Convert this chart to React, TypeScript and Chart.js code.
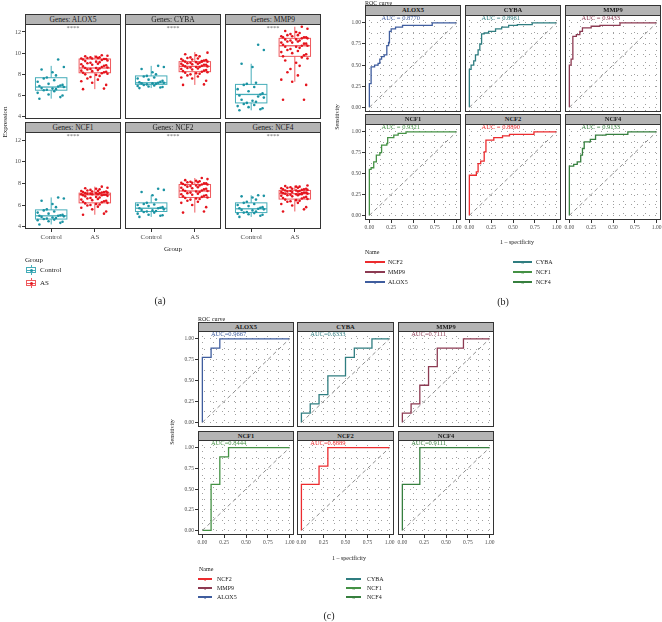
import React, { useEffect, useRef } from "react";
import { Chart, registerables } from "chart.js";

Chart.register(...registerables);

const FONT = "'Liberation Serif', 'Times New Roman', serif";

// ---------------- data ----------------
const GENES = ["ALOX5", "CYBA", "MMP9", "NCF1", "NCF2", "NCF4"];
const GROUPS = ["Control", "AS"];
const EXPR_TICKS = [4, 6, 8, 10, 12];
const ROC_GRID = [0, 0.125, 0.25, 0.375, 0.5, 0.625, 0.75, 0.875, 1];

const CONTROL_ALOX5 = [5.7, 5.85, 6.0, 6.1, 6.25, 6.4, 6.5, 6.55, 6.6, 6.65, 6.7, 6.8, 6.85, 6.9, 6.95, 7.0, 7.1, 7.3, 7.45, 7.6, 7.7, 7.9, 8.2, 8.45, 8.7, 9.4];
const AS_ALOX5 = [6.6, 6.65, 7.0, 7.2, 7.35, 7.5, 7.6, 7.75, 7.85, 7.95, 8.0, 8.05, 8.1, 8.15, 8.2, 8.25, 8.3, 8.35, 8.4, 8.45, 8.5, 8.55, 8.6, 8.6, 8.65, 8.7, 8.75, 8.8, 8.85, 8.9, 8.95, 9.0, 9.05, 9.1, 9.15, 9.2, 9.25, 9.3, 9.35, 9.4, 9.45, 9.45, 9.5, 9.5, 9.55, 9.55, 9.6, 9.6, 9.65, 9.7, 9.75, 9.8];
const CONTROL_CYBA = [6.7, 6.75, 6.8, 6.85, 6.9, 6.95, 7.0, 7.05, 7.1, 7.15, 7.15, 7.2, 7.2, 7.25, 7.3, 7.4, 7.5, 7.6, 7.7, 7.8, 7.85, 8.0, 8.2, 8.5, 8.7, 8.8];
const AS_CYBA = [7.0, 7.05, 7.4, 7.6, 7.7, 7.8, 7.9, 8.0, 8.05, 8.1, 8.15, 8.2, 8.25, 8.3, 8.35, 8.4, 8.45, 8.5, 8.55, 8.6, 8.65, 8.7, 8.7, 8.75, 8.75, 8.8, 8.85, 8.9, 8.9, 8.95, 9.0, 9.0, 9.05, 9.1, 9.1, 9.15, 9.2, 9.2, 9.25, 9.3, 9.3, 9.35, 9.4, 9.45, 9.5, 9.55, 9.6, 9.7, 9.8, 9.9, 10.05, 9.2];
const CONTROL_MMP9 = [4.6, 4.7, 4.8, 4.9, 5.0, 5.1, 5.2, 5.3, 5.4, 5.5, 5.6, 5.8, 5.9, 6.0, 6.1, 6.2, 6.4, 6.6, 6.8, 7.0, 7.1, 7.2, 8.7, 9.0, 10.3, 10.8];
const AS_MMP9 = [5.6, 5.6, 7.0, 7.3, 7.5, 7.9, 8.2, 8.5, 8.8, 9.1, 9.3, 9.5, 9.6, 9.7, 9.8, 9.9, 10.0, 10.1, 10.2, 10.3, 10.4, 10.5, 10.6, 10.6, 10.7, 10.7, 10.8, 10.9, 10.9, 11.0, 11.0, 11.1, 11.1, 11.2, 11.2, 11.3, 11.3, 11.4, 11.4, 11.5, 11.5, 11.5, 11.6, 11.6, 11.7, 11.7, 11.8, 11.9, 12.0, 12.1, 12.3, 12.5];
const CONTROL_NCF1 = [4.2, 4.35, 4.45, 4.5, 4.6, 4.65, 4.7, 4.75, 4.8, 4.85, 4.9, 4.95, 5.0, 5.0, 5.05, 5.1, 5.2, 5.3, 5.4, 5.5, 5.6, 5.8, 6.1, 6.4, 6.6, 6.7];
const AS_NCF1 = [5.1, 5.2, 5.4, 5.6, 5.75, 5.85, 5.95, 6.0, 6.05, 6.1, 6.15, 6.2, 6.25, 6.3, 6.35, 6.4, 6.45, 6.5, 6.55, 6.6, 6.65, 6.7, 6.75, 6.8, 6.85, 6.9, 6.9, 6.95, 6.95, 7.0, 7.0, 7.0, 7.05, 7.05, 7.1, 7.1, 7.1, 7.15, 7.15, 7.2, 7.2, 7.25, 7.25, 7.3, 7.3, 7.35, 7.4, 7.45, 7.5, 7.55, 7.6, 7.7];
const CONTROL_NCF2 = [4.9, 5.0, 5.05, 5.1, 5.2, 5.3, 5.35, 5.4, 5.45, 5.5, 5.55, 5.6, 5.7, 5.7, 5.75, 5.8, 5.9, 6.0, 6.05, 6.1, 6.2, 6.5, 6.9, 7.2, 7.4, 7.5];
const AS_NCF2 = [5.3, 5.4, 5.8, 6.0, 6.2, 6.3, 6.4, 6.5, 6.55, 6.6, 6.65, 6.7, 6.75, 6.8, 6.85, 6.9, 6.95, 7.0, 7.05, 7.1, 7.15, 7.2, 7.25, 7.3, 7.3, 7.35, 7.4, 7.45, 7.5, 7.55, 7.6, 7.65, 7.7, 7.75, 7.8, 7.8, 7.85, 7.9, 7.9, 7.95, 8.0, 8.0, 8.05, 8.05, 8.1, 8.1, 8.15, 8.2, 8.25, 8.3, 8.4, 8.5];
const CONTROL_NCF4 = [4.9, 5.0, 5.1, 5.15, 5.2, 5.25, 5.3, 5.35, 5.4, 5.5, 5.55, 5.6, 5.65, 5.7, 5.75, 5.8, 5.9, 6.0, 6.1, 6.2, 6.3, 6.5, 6.7, 6.8, 6.85, 6.9];
const AS_NCF4 = [5.4, 5.6, 5.8, 5.95, 6.1, 6.2, 6.3, 6.35, 6.4, 6.45, 6.5, 6.55, 6.6, 6.65, 6.7, 6.75, 6.8, 6.85, 6.9, 6.9, 6.95, 7.0, 7.0, 7.05, 7.05, 7.1, 7.1, 7.15, 7.15, 7.2, 7.2, 7.25, 7.25, 7.3, 7.3, 7.35, 7.35, 7.4, 7.4, 7.45, 7.45, 7.5, 7.5, 7.55, 7.6, 7.6, 7.65, 7.7, 7.7, 7.75, 7.8, 7.0];

const CONTROL_VALUES = [CONTROL_ALOX5, CONTROL_CYBA, CONTROL_MMP9, CONTROL_NCF1, CONTROL_NCF2, CONTROL_NCF4];
const AS_VALUES = [AS_ALOX5, AS_CYBA, AS_MMP9, AS_NCF1, AS_NCF2, AS_NCF4];

// [lower whisker, Q1, median, Q3, upper whisker]
const CONTROL_BOX = [
  [5.7, 6.5, 6.8, 7.68, 8.8],
  [6.7, 7.05, 7.2, 7.85, 8.8],
  [4.6, 5.3, 6.1, 7.05, 9.0],
  [4.2, 4.7, 5.0, 5.55, 6.7],
  [4.9, 5.4, 5.7, 6.2, 6.9],
  [4.9, 5.3, 5.65, 6.2, 6.9],
];
const AS_BOX = [
  [6.6, 8.15, 8.6, 9.45, 9.8],
  [7.0, 8.25, 8.75, 9.2, 10.1],
  [7.3, 9.7, 10.7, 11.4, 12.5],
  [5.1, 6.2, 6.95, 7.1, 7.7],
  [5.3, 6.7, 7.3, 7.9, 8.5],
  [5.4, 6.55, 7.05, 7.35, 7.8],
];
// fixed (non-random) jitter offsets, cycled over the points
const JITTER = [-0.27, 0.11, -0.06, 0.29, -0.17, 0.21, 0.03, -0.31, 0.16, -0.1, 0.26, -0.22, 0.07];

// ROC curves (1 - specificity, sensitivity) – panel b
const ROC_B_ALOX5 = [[0, 0], [0, 0.28], [0.02, 0.28], [0.02, 0.48], [0.06, 0.48], [0.06, 0.5], [0.1, 0.5], [0.1, 0.52], [0.12, 0.52], [0.12, 0.57], [0.14, 0.57], [0.14, 0.6], [0.17, 0.6], [0.17, 0.62], [0.2, 0.62], [0.2, 0.73], [0.22, 0.73], [0.22, 0.77], [0.23, 0.77], [0.23, 0.9], [0.25, 0.9], [0.25, 0.93], [0.3, 0.93], [0.3, 0.95], [0.38, 0.95], [0.38, 0.97], [0.72, 0.97], [0.72, 1], [1, 1]];
const ROC_B_CYBA = [[0, 0], [0, 0.45], [0.02, 0.45], [0.02, 0.5], [0.05, 0.5], [0.05, 0.55], [0.07, 0.55], [0.07, 0.62], [0.1, 0.62], [0.1, 0.68], [0.12, 0.68], [0.12, 0.75], [0.14, 0.75], [0.14, 0.87], [0.17, 0.87], [0.17, 0.88], [0.22, 0.88], [0.22, 0.9], [0.3, 0.9], [0.3, 0.93], [0.37, 0.93], [0.37, 0.95], [0.45, 0.95], [0.45, 0.97], [0.55, 0.97], [0.55, 0.98], [0.72, 0.98], [0.72, 1], [1, 1]];
const ROC_B_MMP9 = [[0, 0], [0, 0.5], [0.02, 0.5], [0.02, 0.57], [0.04, 0.57], [0.04, 0.84], [0.08, 0.84], [0.08, 0.86], [0.12, 0.86], [0.12, 0.9], [0.15, 0.9], [0.15, 0.94], [0.25, 0.94], [0.25, 0.96], [0.35, 0.96], [0.35, 0.97], [0.58, 0.97], [0.58, 1], [1, 1]];
const ROC_B_NCF1 = [[0, 0], [0, 0.55], [0.02, 0.55], [0.02, 0.57], [0.05, 0.57], [0.05, 0.64], [0.08, 0.64], [0.08, 0.72], [0.12, 0.72], [0.12, 0.75], [0.14, 0.75], [0.14, 0.84], [0.2, 0.84], [0.2, 0.86], [0.21, 0.86], [0.21, 0.93], [0.28, 0.93], [0.28, 0.96], [0.33, 0.96], [0.33, 0.98], [0.42, 0.98], [0.42, 1], [1, 1]];
const ROC_B_NCF2 = [[0, 0], [0, 0.48], [0.08, 0.48], [0.08, 0.52], [0.1, 0.52], [0.1, 0.62], [0.13, 0.62], [0.13, 0.65], [0.17, 0.65], [0.17, 0.76], [0.19, 0.76], [0.19, 0.9], [0.28, 0.9], [0.28, 0.93], [0.38, 0.93], [0.38, 0.95], [0.46, 0.95], [0.46, 0.97], [0.74, 0.97], [0.74, 1], [1, 1]];
const ROC_B_NCF4 = [[0, 0], [0, 0.59], [0.05, 0.59], [0.05, 0.61], [0.09, 0.61], [0.09, 0.64], [0.13, 0.64], [0.13, 0.72], [0.15, 0.72], [0.15, 0.8], [0.17, 0.8], [0.17, 0.88], [0.24, 0.88], [0.24, 0.91], [0.3, 0.91], [0.3, 0.96], [0.42, 0.96], [0.42, 0.97], [0.67, 0.97], [0.67, 1], [1, 1]];
const AUC_B = ["0.8770", "0.8961", "0.9433", "0.9321", "0.8890", "0.9133"];

// ROC curves – panel c
const ROC_C_ALOX5 = [[0, 0], [0, 0.778], [0.1, 0.778], [0.1, 0.889], [0.2, 0.889], [0.2, 1], [1, 1]];
const ROC_C_CYBA = [[0, 0], [0, 0.111], [0.1, 0.111], [0.1, 0.222], [0.2, 0.222], [0.2, 0.333], [0.3, 0.333], [0.3, 0.556], [0.5, 0.556], [0.5, 0.778], [0.6, 0.778], [0.6, 0.889], [0.8, 0.889], [0.8, 1], [1, 1]];
const ROC_C_MMP9 = [[0, 0], [0, 0.111], [0.1, 0.111], [0.1, 0.222], [0.2, 0.222], [0.2, 0.444], [0.3, 0.444], [0.3, 0.667], [0.4, 0.667], [0.4, 0.889], [0.7, 0.889], [0.7, 1], [1, 1]];
const ROC_C_NCF1 = [[0, 0], [0.1, 0], [0.1, 0.556], [0.2, 0.556], [0.2, 0.889], [0.3, 0.889], [0.3, 1], [1, 1]];
const ROC_C_NCF2 = [[0, 0], [0, 0.556], [0.2, 0.556], [0.2, 0.778], [0.3, 0.778], [0.3, 1], [1, 1]];
const ROC_C_NCF4 = [[0, 0], [0, 0.556], [0.2, 0.556], [0.2, 1], [1, 1]];
const AUC_C = ["0.9667", "0.6333", "0.7111", "0.8444", "0.8889", "0.9111"];

const ROC_B = [ROC_B_ALOX5, ROC_B_CYBA, ROC_B_MMP9, ROC_B_NCF1, ROC_B_NCF2, ROC_B_NCF4];
const ROC_C = [ROC_C_ALOX5, ROC_C_CYBA, ROC_C_MMP9, ROC_C_NCF1, ROC_C_NCF2, ROC_C_NCF4];
const LEGEND_LEFT = ["NCF2", "MMP9", "ALOX5"];
const LEGEND_RIGHT = ["CYBA", "NCF1", "NCF4"];

// ---------------- styles ----------------
const GENE_COLOR: Record<string, string> = {
  ALOX5: "#3f5d9e",
  CYBA: "#2f7d80",
  MMP9: "#8c3a52",
  NCF1: "#449144",
  NCF2: "#ec2b2e",
  NCF4: "#367f3e",
};
const CONTROL_POINT = "#1b93a3";
const AS_POINT = "#e5141d";
const CONTROL_LINE = "#45adb9";
const AS_LINE = "#ef5a5e";
const BOX_W = 0.72;

const PAD = 14;
const A_COLS = [25, 125, 225];
const A_ROWS = [[23, 96], [131, 98]];
const B_COLS = [365, 465, 565];
const B_ROWS = [[14, 98], [123, 97]];
const C_COLS = [198, 297, 398];
const C_WS = [96, 97, 96];
const C_ROWS = [[330, 97], [439, 96]];

type Geom = { left: number; top: number; width: number; height: number };

function makeGeom(L: number, T: number, W: number, H: number, yW: number, xH: number): Geom {
  return { left: L - PAD - yW, top: T - PAD, width: W + 2 * PAD + yW, height: H + 2 * PAD + xH };
}

function makeScale(kind: "x" | "y", o: any) {
  return {
    type: "linear",
    position: kind === "x" ? "bottom" : "left",
    bounds: "data",
    min: o.min,
    max: o.max,
    display: o.show || o.grid,
    afterBuildTicks: (s: any) => {
      s.ticks = o.ticks.map((v: number) => ({ value: v }));
    },
    afterFit: (s: any) => {
      if (kind === "x") s.height = o.show ? o.size : 0;
      else s.width = o.show ? o.size : 0;
      s.paddingLeft = 0;
      s.paddingRight = 0;
      s.paddingTop = 0;
      s.paddingBottom = 0;
    },
    border: { display: false, dash: o.grid ? [1, 5] : [] },
    grid: {
      display: true,
      drawOnChartArea: !!o.grid,
      color: "#a0a0a0",
      lineWidth: 1,
      drawTicks: !!o.show,
      tickLength: 3,
      tickWidth: 1,
      tickColor: (c: any) => (c.tick && o.isMajor(c.tick.value) ? "#333333" : "rgba(0,0,0,0)"),
    },
    ticks: {
      display: !!o.show,
      autoSkip: false,
      maxRotation: 0,
      minRotation: 0,
      padding: 1,
      color: "#4d4d4d",
      font: { family: FONT, size: o.fontSize },
      callback: (v: any) => o.label(Number(v)),
    },
  };
}

function textPlugin(items: any[]) {
  return {
    id: "facetText",
    afterDatasetsDraw(chart: any) {
      const { ctx } = chart;
      const xs = chart.scales.x;
      const ys = chart.scales.y;
      ctx.save();
      for (const it of items) {
        ctx.font = `${it.size}px ${FONT}`;
        ctx.fillStyle = it.color;
        ctx.textAlign = "center";
        ctx.textBaseline = "middle";
        ctx.fillText(it.text, xs.getPixelForValue(it.x), ys.getPixelForValue(it.y));
      }
      ctx.restore();
    },
  };
}

function boxPlugin(stats: number[][], colors: string[]) {
  return {
    id: "boxplot",
    beforeDatasetsDraw(chart: any) {
      const { ctx } = chart;
      const xs = chart.scales.x;
      const ys = chart.scales.y;
      ctx.save();
      stats.forEach((s, i) => {
        const g = i + 1;
        const x0 = xs.getPixelForValue(g - BOX_W / 2);
        const x1 = xs.getPixelForValue(g + BOX_W / 2);
        const xc = xs.getPixelForValue(g);
        const [lo, q1, med, q3, hi] = s.map((v) => ys.getPixelForValue(v));
        ctx.strokeStyle = colors[i];
        ctx.lineWidth = 1;
        ctx.beginPath();
        ctx.moveTo(xc, q3);
        ctx.lineTo(xc, hi);
        ctx.moveTo(xc, q1);
        ctx.lineTo(xc, lo);
        ctx.stroke();
        ctx.strokeRect(x0, q3, x1 - x0, q1 - q3);
        ctx.lineWidth = 1.3;
        ctx.beginPath();
        ctx.moveTo(x0, med);
        ctx.lineTo(x1, med);
        ctx.stroke();
      });
      ctx.restore();
    },
  };
}

function boxConfig(gi: number, showY: boolean, showX: boolean) {
  const pts = (vals: number[], g: number) => vals.map((v, i) => ({ x: g + JITTER[(i * 5) % JITTER.length], y: v }));
  return {
    type: "scatter",
    data: {
      datasets: [
        { data: pts(CONTROL_VALUES[gi], 1), backgroundColor: CONTROL_POINT, borderWidth: 0, pointRadius: 1.3 },
        { data: pts(AS_VALUES[gi], 2), backgroundColor: AS_POINT, borderWidth: 0, pointRadius: 1.3 },
      ],
    },
    options: {
      animation: false,
      responsive: false,
      events: [],
      layout: { padding: PAD },
      plugins: { legend: { display: false }, tooltip: { enabled: false } },
      scales: {
        x: makeScale("x", {
          min: 0.4, max: 2.6, ticks: [1, 2], show: showX, grid: false, size: 13, fontSize: 7,
          label: (v: number) => GROUPS[Math.round(v) - 1] || "", isMajor: () => true,
        }),
        y: makeScale("y", {
          min: 3.78, max: 12.85, ticks: EXPR_TICKS, show: showY, grid: false, size: 14, fontSize: 6,
          label: (v: number) => String(v), isMajor: () => true,
        }),
      },
    },
    plugins: [
      boxPlugin([CONTROL_BOX[gi], AS_BOX[gi]], [CONTROL_LINE, AS_LINE]),
      textPlugin([{ text: "****", x: 1.5, y: 12.35, color: "#666666", size: 6.5 }]),
    ],
  };
}

const isQuarter = (v: number) => Math.abs(v * 4 - Math.round(v * 4)) < 1e-6;

function rocConfig(curve: number[][], gene: string, auc: string, showY: boolean, showX: boolean, labelX: number, labelY: number, spaced: boolean) {
  const color = GENE_COLOR[gene];
  return {
    type: "scatter",
    data: {
      datasets: [
        {
          data: [{ x: 0, y: 0 }, { x: 1, y: 1 }],
          showLine: true, borderColor: "#8f8f8f", borderWidth: 1, borderDash: [4, 3], pointRadius: 0,
        },
        {
          data: curve.map(([x, y]) => ({ x, y })),
          showLine: true, borderColor: color, borderWidth: 1.3, pointRadius: 0, tension: 0,
        },
      ],
    },
    options: {
      animation: false,
      responsive: false,
      events: [],
      layout: { padding: PAD },
      plugins: { legend: { display: false }, tooltip: { enabled: false } },
      scales: {
        x: makeScale("x", {
          min: -0.05, max: 1.05, ticks: ROC_GRID, show: showX, grid: true, size: 12, fontSize: 5.5,
          label: (v: number) => (isQuarter(v) ? v.toFixed(2) : ""), isMajor: isQuarter,
        }),
        y: makeScale("y", {
          min: -0.055, max: 1.105, ticks: ROC_GRID, show: showY, grid: true, size: 17, fontSize: 5.5,
          label: (v: number) => (isQuarter(v) ? v.toFixed(2) : ""), isMajor: isQuarter,
        }),
      },
    },
    plugins: [
      textPlugin([{ text: spaced ? `AUC = ${auc}` : `AUC=${auc}`, x: labelX, y: labelY, color, size: 6.5 }]),
    ],
  };
}

// ---------------- components ----------------
function ChartCanvas({ geom, config }: { geom: Geom; config: any }) {
  const ref = useRef<HTMLCanvasElement>(null);
  useEffect(() => {
    const chart = new Chart(ref.current as HTMLCanvasElement, config);
    return () => chart.destroy();
  }, []);
  return (
    <canvas
      ref={ref}
      width={geom.width}
      height={geom.height}
      style={{ position: "absolute", left: geom.left, top: geom.top, width: geom.width, height: geom.height }}
    />
  );
}

function Frame({ L, T, W, H }: { L: number; T: number; W: number; H: number }) {
  return (
    <div
      style={{
        position: "absolute", left: L, top: T, width: W, height: H,
        border: "1.5px solid #333", boxSizing: "border-box", pointerEvents: "none",
      }}
    />
  );
}

function Strip({ L, T, W, H, label, size, bold }: any) {
  return (
    <div
      style={{
        position: "absolute", left: L, top: T, width: W, height: H,
        background: "#b4b4b4", border: "1.5px solid #333", boxSizing: "border-box",
        display: "flex", alignItems: "center", justifyContent: "center",
        fontFamily: FONT, fontSize: size, fontWeight: bold ? 700 : 400, color: "#1a1a1a",
        lineHeight: 1, overflow: "hidden", whiteSpace: "nowrap",
      }}
    >
      {label}
    </div>
  );
}

function Txt({ x, y, children, size = 7, anchor = "middle", color = "#1a1a1a" }: any) {
  const tx = anchor === "middle" ? "-50%" : "0";
  return (
    <div
      style={{
        position: "absolute", left: x, top: y, fontFamily: FONT, fontSize: size, color,
        whiteSpace: "nowrap", lineHeight: 1, transform: `translate(${tx}, -50%)`,
      }}
    >
      {children}
    </div>
  );
}

function RotTxt({ x, y, children, size = 7 }: any) {
  return (
    <div
      style={{
        position: "absolute", left: x, top: y, fontFamily: FONT, fontSize: size, color: "#1a1a1a",
        whiteSpace: "nowrap", lineHeight: 1, transform: "translate(-50%, -50%) rotate(-90deg)",
      }}
    >
      {children}
    </div>
  );
}

function BoxKey({ x, y, color, point }: any) {
  return (
    <div style={{ position: "absolute", left: x, top: y - 5, width: 12, height: 10 }}>
      <div style={{ position: "absolute", left: 5.5, top: 0, width: 1, height: 10, background: color }} />
      <div
        style={{
          position: "absolute", left: 1, top: 2, width: 10, height: 6, background: "#fff",
          border: `1px solid ${color}`, boxSizing: "border-box",
        }}
      />
      <div style={{ position: "absolute", left: 1, top: 4.5, width: 10, height: 1, background: color }} />
      <div style={{ position: "absolute", left: 4.5, top: 3.5, width: 3, height: 3, borderRadius: 2, background: point }} />
    </div>
  );
}

function LineKey({ x, y, color, len, size }: any) {
  return (
    <div style={{ position: "absolute", left: x, top: y - 4, width: len, height: 8 }}>
      <div style={{ position: "absolute", left: 0, top: 3.4, width: len, height: 1.4, background: color }} />
      <div
        style={{
          position: "absolute", left: len / 2, top: 4, transform: "translate(-50%, -50%)",
          fontFamily: FONT, fontSize: size, color, lineHeight: 1,
        }}
      >
        a
      </div>
    </div>
  );
}

export default function App() {
  const canvases: any[] = [];
  const overlays: any[] = [];

  GENES.forEach((gene, gi) => {
    const col = gi % 3;
    const row = Math.floor(gi / 3);
    const showY = col === 0;
    const showX = row === 1;

    // ---- panel (a) ----
    {
      const L = A_COLS[col];
      const [T, H] = A_ROWS[row];
      const W = 96;
      canvases.push(
        <ChartCanvas key={`a${gi}`} geom={makeGeom(L, T, W, H, showY ? 14 : 0, showX ? 13 : 0)} config={boxConfig(gi, showY, showX)} />
      );
      overlays.push(<Frame key={`af${gi}`} L={L} T={T} W={W} H={H} />);
      overlays.push(<Strip key={`as${gi}`} L={L} T={T - 9} W={W} H={10.5} label={`Genes: ${gene}`} size={7.5} />);
    }
    // ---- panel (b) ----
    {
      const L = B_COLS[col];
      const [T, H] = B_ROWS[row];
      const W = 96;
      canvases.push(
        <ChartCanvas
          key={`b${gi}`}
          geom={makeGeom(L, T, W, H, showY ? 17 : 0, showX ? 12 : 0)}
          config={rocConfig(ROC_B[gi], gene, AUC_B[gi], showY, showX, 0.36, 1.058, true)}
        />
      );
      overlays.push(<Frame key={`bf${gi}`} L={L} T={T} W={W} H={H} />);
      overlays.push(<Strip key={`bs${gi}`} L={L} T={T - 9} W={W} H={10.5} label={gene} size={6.5} bold />);
    }
    // ---- panel (c) ----
    {
      const L = C_COLS[col];
      const W = C_WS[col];
      const [T, H] = C_ROWS[row];
      canvases.push(
        <ChartCanvas
          key={`c${gi}`}
          geom={makeGeom(L, T, W, H, showY ? 17 : 0, showX ? 12 : 0)}
          config={rocConfig(ROC_C[gi], gene, AUC_C[gi], showY, showX, 0.3, 1.05, false)}
        />
      );
      overlays.push(<Frame key={`cf${gi}`} L={L} T={T} W={W} H={H} />);
      overlays.push(<Strip key={`cs${gi}`} L={L} T={T - 8} W={W} H={9.5} label={gene} size={6.5} bold />);
    }
  });

  return (
    <div
      style={{
        position: "absolute", left: 0, top: 0, width: 662, height: 622,
        background: "#fff", overflow: "hidden",
      }}
    >
      {canvases}
      {overlays}

      {/* panel (a) texts */}
      <RotTxt x={5} y={122} size={7}>Expression</RotTxt>
      <Txt x={173} y={249} size={7}>Group</Txt>
      <Txt x={25} y={260} size={7} anchor="start">Group</Txt>
      <BoxKey x={25} y={270} color={CONTROL_LINE} point={CONTROL_POINT} />
      <Txt x={40} y={270} size={7} anchor="start">Control</Txt>
      <BoxKey x={25} y={283} color={AS_LINE} point={AS_POINT} />
      <Txt x={40} y={283} size={7} anchor="start">AS</Txt>
      <Txt x={160} y={301} size={10}>(a)</Txt>

      {/* panel (b) texts */}
      <Txt x={365} y={3} size={6} anchor="start">ROC curve</Txt>
      <RotTxt x={337} y={117} size={6}>Sensitivity</RotTxt>
      <Txt x={517} y={242} size={6}>1 – specificity</Txt>
      <Txt x={365} y={252} size={6} anchor="start">Name</Txt>
      {LEGEND_LEFT.map((g, i) => (
        <React.Fragment key={`lbl${g}`}>
          <LineKey x={365} y={262 + i * 10} color={GENE_COLOR[g]} len={20} size={5} />
          <Txt x={388} y={262 + i * 10} size={6} anchor="start">{g}</Txt>
        </React.Fragment>
      ))}
      {LEGEND_RIGHT.map((g, i) => (
        <React.Fragment key={`lbr${g}`}>
          <LineKey x={513} y={262 + i * 10} color={GENE_COLOR[g]} len={19} size={5} />
          <Txt x={536} y={262 + i * 10} size={6} anchor="start">{g}</Txt>
        </React.Fragment>
      ))}
      <Txt x={503} y={302} size={10}>(b)</Txt>

      {/* panel (c) texts */}
      <Txt x={198} y={319} size={6} anchor="start">ROC curve</Txt>
      <RotTxt x={172} y={432} size={6}>Sensitivity</RotTxt>
      <Txt x={349} y={558} size={6}>1 – specificity</Txt>
      <Txt x={199} y={569} size={6} anchor="start">Name</Txt>
      {LEGEND_LEFT.map((g, i) => (
        <React.Fragment key={`lcl${g}`}>
          <LineKey x={198} y={579 + i * 9} color={GENE_COLOR[g]} len={14} size={5} />
          <Txt x={217} y={579 + i * 9} size={6} anchor="start">{g}</Txt>
        </React.Fragment>
      ))}
      {LEGEND_RIGHT.map((g, i) => (
        <React.Fragment key={`lcr${g}`}>
          <LineKey x={346} y={579 + i * 9} color={GENE_COLOR[g]} len={15} size={5} />
          <Txt x={367} y={579 + i * 9} size={6} anchor="start">{g}</Txt>
        </React.Fragment>
      ))}
      <Txt x={329} y={616} size={10}>(c)</Txt>
    </div>
  );
}
